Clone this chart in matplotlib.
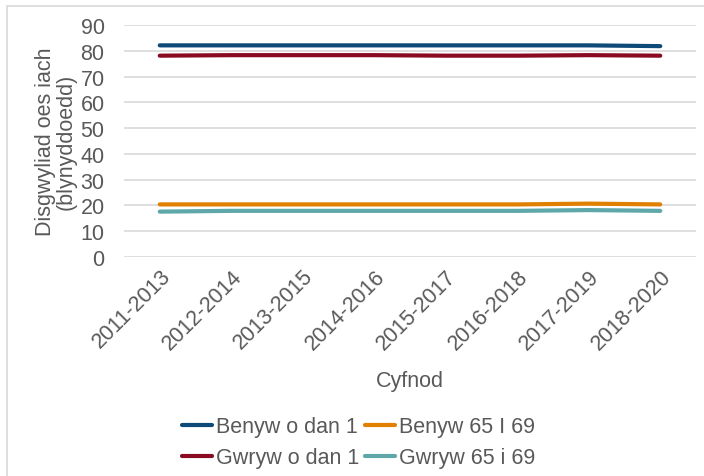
import matplotlib.pyplot as plt
from matplotlib.patches import Rectangle

plt.rcParams['font.family'] = ['Liberation Sans', 'DejaVu Sans']

cyfnod = ['2011-2013', '2012-2014', '2013-2015', '2014-2016',
          '2015-2017', '2016-2018', '2017-2019', '2018-2020']

benyw_dan1 = [82.1, 82.1, 82.1, 82.1, 82.1, 82.1, 82.1, 81.8]
benyw_65 = [20.4, 20.4, 20.4, 20.4, 20.4, 20.4, 20.7, 20.4]
gwryw_dan1 = [78.1, 78.3, 78.3, 78.3, 78.1, 78.1, 78.3, 78.1]
gwryw_65 = [17.6, 17.9, 17.9, 17.9, 17.9, 17.9, 18.2, 17.9]

grey = '#595959'
fs = 15.5

fig = plt.figure(figsize=(7.04, 4.77), dpi=100)
# thin outer frame around the chart area
fig.patches.append(Rectangle((7 / 704, -0.1), 1.2, 1 - 7 / 477 + 0.1,
                             transform=fig.transFigure, fill=False,
                             edgecolor='#d9d9d9', linewidth=1.2))

ax = fig.add_axes([124 / 704, 1 - 258 / 477, 572 / 704, 232 / 477])

x = range(len(cyfnod))
l1, = ax.plot(x, benyw_dan1, color='#0e4a78', lw=3, solid_capstyle='round')
l2, = ax.plot(x, benyw_65, color='#e07f00', lw=3, solid_capstyle='round')
l3, = ax.plot(x, gwryw_dan1, color='#8a0a22', lw=3, solid_capstyle='round')
l4, = ax.plot(x, gwryw_65, color='#5fa7a8', lw=3, solid_capstyle='round')

ax.set_xlim(-0.5, len(cyfnod) - 0.5)
ax.set_ylim(0, 90)
ax.set_yticks(range(0, 91, 10))
ax.set_xticks(list(x))
ax.set_xticklabels(cyfnod, rotation=45, ha='right', rotation_mode='anchor')
ax.tick_params(axis='both', length=0, labelsize=fs, labelcolor=grey)
ax.tick_params(axis='y', pad=14)
ax.tick_params(axis='x', pad=6)
ax.grid(axis='y', color='#d9d9d9', lw=1.2)
ax.set_axisbelow(True)
for s in ax.spines.values():
    s.set_visible(False)

ax.set_ylabel('Disgwyliad oes iach\n(blynyddoedd)', fontsize=fs, color=grey,
              labelpad=3, linespacing=0.95)
ax.set_xlabel('Cyfnod', fontsize=fs, color=grey, labelpad=12)

# two columns, filled column by column
ax.legend([l1, l3, l2, l4],
          ['Benyw o dan 1', 'Gwryw o dan 1', 'Benyw 65 I 69', 'Gwryw 65 i 69'],
          loc='upper center', bbox_to_anchor=(0.41, -0.65), ncol=2,
          frameon=False, fontsize=fs, labelcolor=grey, handlelength=1.4,
          handletextpad=0.15, columnspacing=0.3, borderaxespad=0,
          labelspacing=0.45)

fig.savefig('out.png', dpi=100)
